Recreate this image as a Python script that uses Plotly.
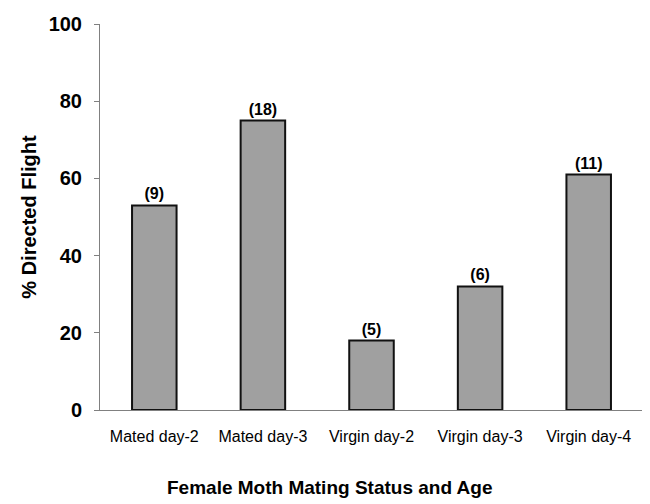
import plotly.graph_objects as go

categories = ["Mated day-2", "Mated day-3", "Virgin day-2", "Virgin day-3", "Virgin day-4"]
directed_flight = [53, 75, 18, 32, 61]
sample_sizes = ["(9)", "(18)", "(5)", "(6)", "(11)"]
y_ticks = [0, 20, 40, 60, 80, 100]

fig = go.Figure(
    go.Bar(
        x=categories,
        y=directed_flight,
        text=sample_sizes,
        textposition="outside",
        textfont=dict(family="Liberation Sans, Arial", size=16, color="black", weight="bold"),
        marker=dict(color="#a0a0a0", line=dict(color="#111111", width=2)),
        width=0.41,
        cliponaxis=False,
    )
)

fig.update_layout(
    width=650,
    height=504,
    margin=dict(l=92, r=15, t=16, b=102),
    plot_bgcolor="white",
    paper_bgcolor="white",
    showlegend=False,
    font=dict(family="Liberation Sans, Arial", color="black"),
    annotations=[
        dict(
            text="Female Moth Mating Status and Age",
            xref="paper", yref="paper",
            x=0.4236, y=-0.2,
            xanchor="center", yanchor="middle",
            showarrow=False,
            font=dict(size=19, weight="bold", color="black"),
        )
    ],
)

fig.update_yaxes(
    range=[0, 100],
    tickvals=y_ticks,
    ticks="outside",
    ticklen=5,
    tickcolor="#808080",
    showline=True,
    linecolor="#808080",
    linewidth=1,
    showgrid=False,
    zeroline=False,
    automargin=False,
    ticklabelstandoff=8,
    tickfont=dict(size=20, weight="bold"),
    title=dict(text="% Directed Flight", font=dict(size=20, weight="bold"), standoff=6),
)

fig.update_xaxes(
    showline=True,
    linecolor="#808080",
    linewidth=1,
    ticks="",
    showgrid=False,
    automargin=False,
    ticklabelstandoff=12,
    tickfont=dict(size=16),
)

fig.write_html("out.html")
